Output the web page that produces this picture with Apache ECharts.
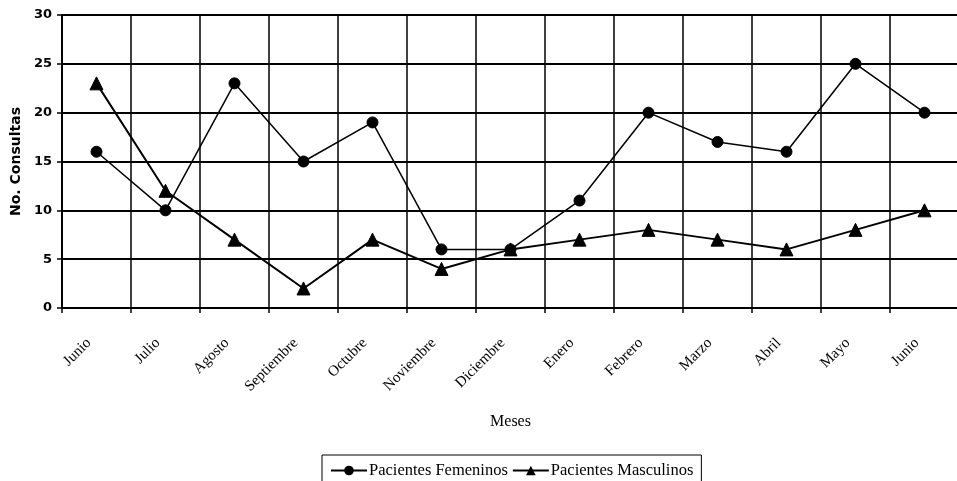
<!DOCTYPE html>
<html>
<head>
<meta charset="utf-8">
<script src="https://cdn.jsdelivr.net/npm/echarts@6/dist/echarts.min.js"></script>
<style>
  html, body { margin: 0; padding: 0; background: #fff; }
  #chart { width: 957px; height: 481px; }
</style>
</head>
<body>
<div id="chart"></div>
<script>
// Consultas mensuales por sexo del paciente
const meses = ['Junio', 'Julio', 'Agosto', 'Septiembre', 'Octubre', 'Noviembre', 'Diciembre',
               'Enero', 'Febrero', 'Marzo', 'Abril', 'Mayo', 'Junio'];
const femeninos = [16, 10, 23, 15, 19, 6, 6, 11, 20, 17, 16, 25, 20];
const masculinos = [23, 12, 7, 2, 7, 4, 6, 7, 8, 7, 6, 8, 10];
const yTicks = { min: 0, max: 30, step: 5 };

const chart = echarts.init(document.getElementById('chart'), null, { renderer: 'canvas' });

const serif = '"Liberation Serif", "DejaVu Serif", serif';
const sans = '"DejaVu Sans", Verdana, sans-serif';

chart.setOption({
  animation: false,
  backgroundColor: '#ffffff',
  grid: {
    left: 62, top: 15, width: 897, height: 293,
    containLabel: false,
    outerBoundsMode: 'none'
  },
  legend: {
    left: 322,
    top: 455,
    padding: [7, 8, 10, 8],
    itemGap: 4,
    itemWidth: 36,
    itemHeight: 12,
    borderColor: '#000',
    borderWidth: 1,
    borderRadius: 0,
    textStyle: { fontFamily: serif, fontSize: 16.5, color: '#000', padding: [0, 0, 0, -3] },
    data: ['Pacientes Femeninos', 'Pacientes Masculinos']
  },
  xAxis: {
    type: 'category',
    data: meses,
    boundaryGap: true,
    name: 'Meses',
    nameLocation: 'middle',
    nameGap: 106,
    nameTextStyle: { fontFamily: serif, fontSize: 16, color: '#000' },
    axisLine: { lineStyle: { color: '#000', width: 2 } },
    axisTick: { show: true, length: 5, lineStyle: { color: '#000', width: 1.5 } },
    axisLabel: {
      interval: 0,
      rotate: 45,
      margin: 25,
      padding: [0, 11, 0, 0],
      fontFamily: serif,
      fontSize: 15,
      color: '#000'
    },
    splitLine: { show: true, lineStyle: { color: '#000', width: 1.5 } }
  },
  yAxis: {
    type: 'value',
    min: yTicks.min,
    max: yTicks.max,
    interval: yTicks.step,
    name: 'No. Consultas',
    nameLocation: 'middle',
    nameGap: 33,
    nameTextStyle: { fontFamily: sans, fontWeight: 'bold', fontSize: 14, color: '#000' },
    axisLine: { show: true, lineStyle: { color: '#000', width: 2 } },
    axisTick: { show: true, length: 5, lineStyle: { color: '#000', width: 1.5 } },
    axisLabel: { fontFamily: sans, fontWeight: 'bold', fontSize: 13, color: '#000', margin: 10 },
    splitLine: { show: true, lineStyle: { color: '#000', width: 2 } }
  },
  series: [
    {
      name: 'Pacientes Femeninos',
      type: 'line',
      data: femeninos,
      symbol: 'circle',
      symbolSize: 11,
      showAllSymbol: true,
      lineStyle: { color: '#000', width: 1.5 },
      itemStyle: { color: '#000', borderColor: '#000' },
      z: 3
    },
    {
      name: 'Pacientes Masculinos',
      type: 'line',
      data: masculinos,
      symbol: 'triangle',
      symbolSize: 13,
      showAllSymbol: true,
      lineStyle: { color: '#000', width: 2 },
      itemStyle: { color: '#000', borderColor: '#000' },
      z: 2
    }
  ]
});
</script>
</body>
</html>
